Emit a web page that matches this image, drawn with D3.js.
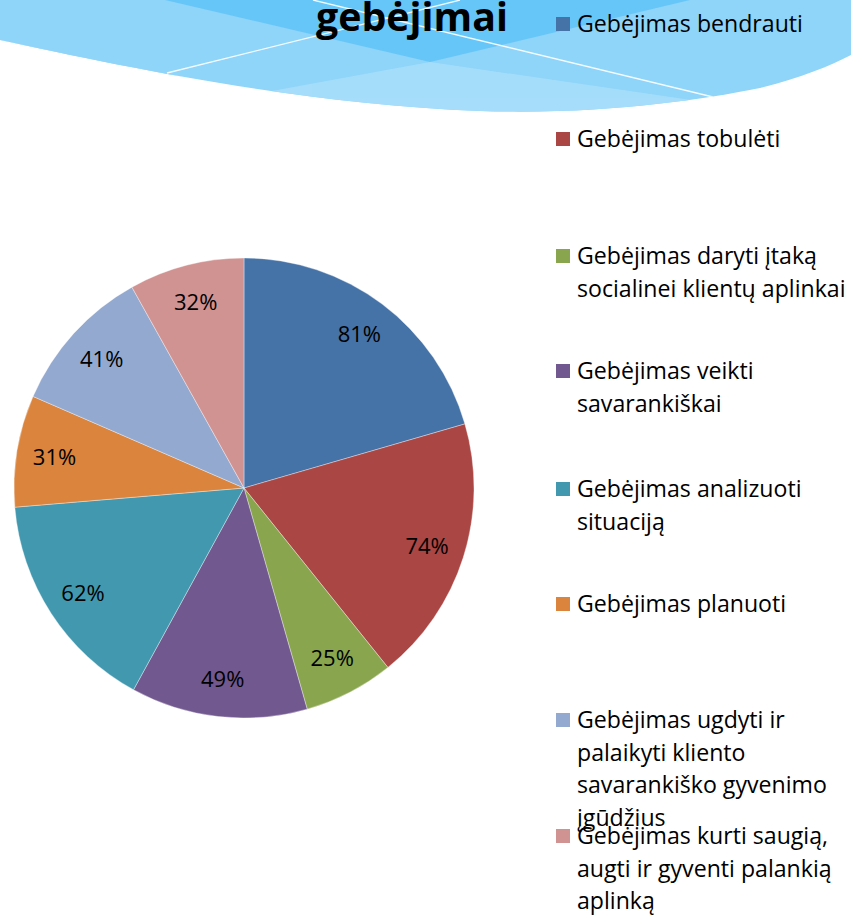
<!DOCTYPE html>
<html>
<head>
<meta charset="utf-8">
<script src="https://cdn.jsdelivr.net/npm/d3@7"></script>
<style>
  html, body { margin: 0; padding: 0; background: #fff; }
  svg { display: block; }
  text { font-family: "Open Sans", Lato, sans-serif; }
</style>
</head>
<body>
<svg id="chart" width="851" height="915"></svg>
<script>
// Skills and their shares
const categories = [
  "Gebėjimas bendrauti",
  "Gebėjimas tobulėti",
  "Gebėjimas daryti įtaką socialinei klientų aplinkai",
  "Gebėjimas veikti savarankiškai",
  "Gebėjimas analizuoti situaciją",
  "Gebėjimas planuoti",
  "Gebėjimas ugdyti ir palaikyti kliento savarankiško gyvenimo įgūdžius",
  "Gebėjimas kurti saugią, augti ir gyventi palankią aplinką"
];
const values = [81, 74, 25, 49, 62, 31, 41, 32];
const legendLines = [
  ["Gebėjimas bendrauti"],
  ["Gebėjimas tobulėti"],
  ["Gebėjimas daryti įtaką", "socialinei klientų aplinkai"],
  ["Gebėjimas veikti", "savarankiškai"],
  ["Gebėjimas analizuoti", "situaciją"],
  ["Gebėjimas planuoti"],
  ["Gebėjimas ugdyti ir", "palaikyti kliento", "savarankiško gyvenimo", "įgūdžius"],
  ["Gebėjimas kurti saugią,", "augti ir gyventi palankią", "aplinką"]
];
const colors = ["#4572a7", "#aa4643", "#89a54e", "#71588f", "#4198af", "#db843d", "#93a9cf", "#d19392"];
const titleText = "gebėjimai";

const svg = d3.select("#chart");

// Decorative header wave
const deco = svg.append("g");
const clip = svg.append("defs").append("clipPath").attr("id", "wave");
const wavePath = "M0,0 L0,40 C120,66 300,104 480,111 C600,115 700,100 760,88 C800,78 830,66 851,55 L851,0 Z";
clip.append("path").attr("d", wavePath);
const dg = deco.append("g").attr("clip-path", "url(#wave)");
dg.append("rect").attr("x", 0).attr("y", 0).attr("width", 851).attr("height", 130).attr("fill", "#8fd4f9");
dg.append("path").attr("d", "M165,0 L430,62 L690,0 Z").attr("fill", "#67c6f8");
dg.append("path").attr("d", "M250,95 L430,62 L760,110 L480,130 Z").attr("fill", "#a5ddfa");
dg.append("path").attr("d", "M0,120 L0,40 L170,74 L250,95 Z").attr("fill", "#92d5f9");
dg.append("line").attr("x1", 167).attr("y1", 73).attr("x2", 460).attr("y2", 0)
  .attr("stroke", "#fff").attr("stroke-width", 1.3).attr("opacity", 0.9);
dg.append("line").attr("x1", 313).attr("y1", 0).attr("x2", 713).attr("y2", 97)
  .attr("stroke", "#fff").attr("stroke-width", 1.3).attr("opacity", 0.9);

// Title (sized so the word spans about 192px)
const title = svg.append("text")
  .attr("x", 412).attr("y", 31)
  .attr("text-anchor", "middle")
  .attr("font-size", 40)
  .attr("font-weight", 700)
  .attr("fill", "#000")
  .text(titleText);
const tw = title.node().getComputedTextLength();
if (tw > 0) title.attr("font-size", 40 * 192 / tw);

// Pie
const cx = 244, cy = 488, R = 230;
const pie = d3.pie().sort(null).value(d => d)(values);
const arc = d3.arc().innerRadius(0).outerRadius(R);
const labelArc = d3.arc().innerRadius(192).outerRadius(192);
const g = svg.append("g").attr("transform", `translate(${cx},${cy})`);
g.selectAll("path.slice").data(pie).join("path")
  .attr("class", "slice")
  .attr("d", arc)
  .attr("fill", (d, i) => colors[i])
  .attr("stroke", "rgba(255,255,255,0.45)")
  .attr("stroke-width", 0.8);
g.selectAll("text.lbl").data(pie).join("text")
  .attr("class", "lbl")
  .attr("transform", d => `translate(${labelArc.centroid(d)})`)
  .attr("text-anchor", "middle")
  .attr("dy", "0.36em")
  .attr("font-size", 22)
  .attr("fill", "#000")
  .text(d => d.data + "%");

// Legend
const legendY = [24, 139, 256, 371, 489, 604, 720, 836];
const leg = svg.append("g");
let legendSize = 21;
legendLines.forEach((lines, i) => {
  const y0 = legendY[i];
  leg.append("rect").attr("x", 556).attr("y", y0 - 7).attr("width", 14).attr("height", 14).attr("fill", colors[i]);
  const t = leg.append("text").attr("class", "legtxt").attr("x", 577).attr("y", y0 + 8).attr("fill", "#000");
  lines.forEach((ln, j) => {
    t.append("tspan").attr("x", 577).attr("y", y0 + 8 + j * 32.5).text(ln);
  });
});
// size legend text so the first entry spans about 226px
leg.selectAll("text.legtxt").attr("font-size", legendSize);
const first = leg.select("text.legtxt tspan").node();
const fw = first.getComputedTextLength();
if (fw > 0) leg.selectAll("text.legtxt").attr("font-size", legendSize * 226 / fw);
</script>
</body>
</html>
